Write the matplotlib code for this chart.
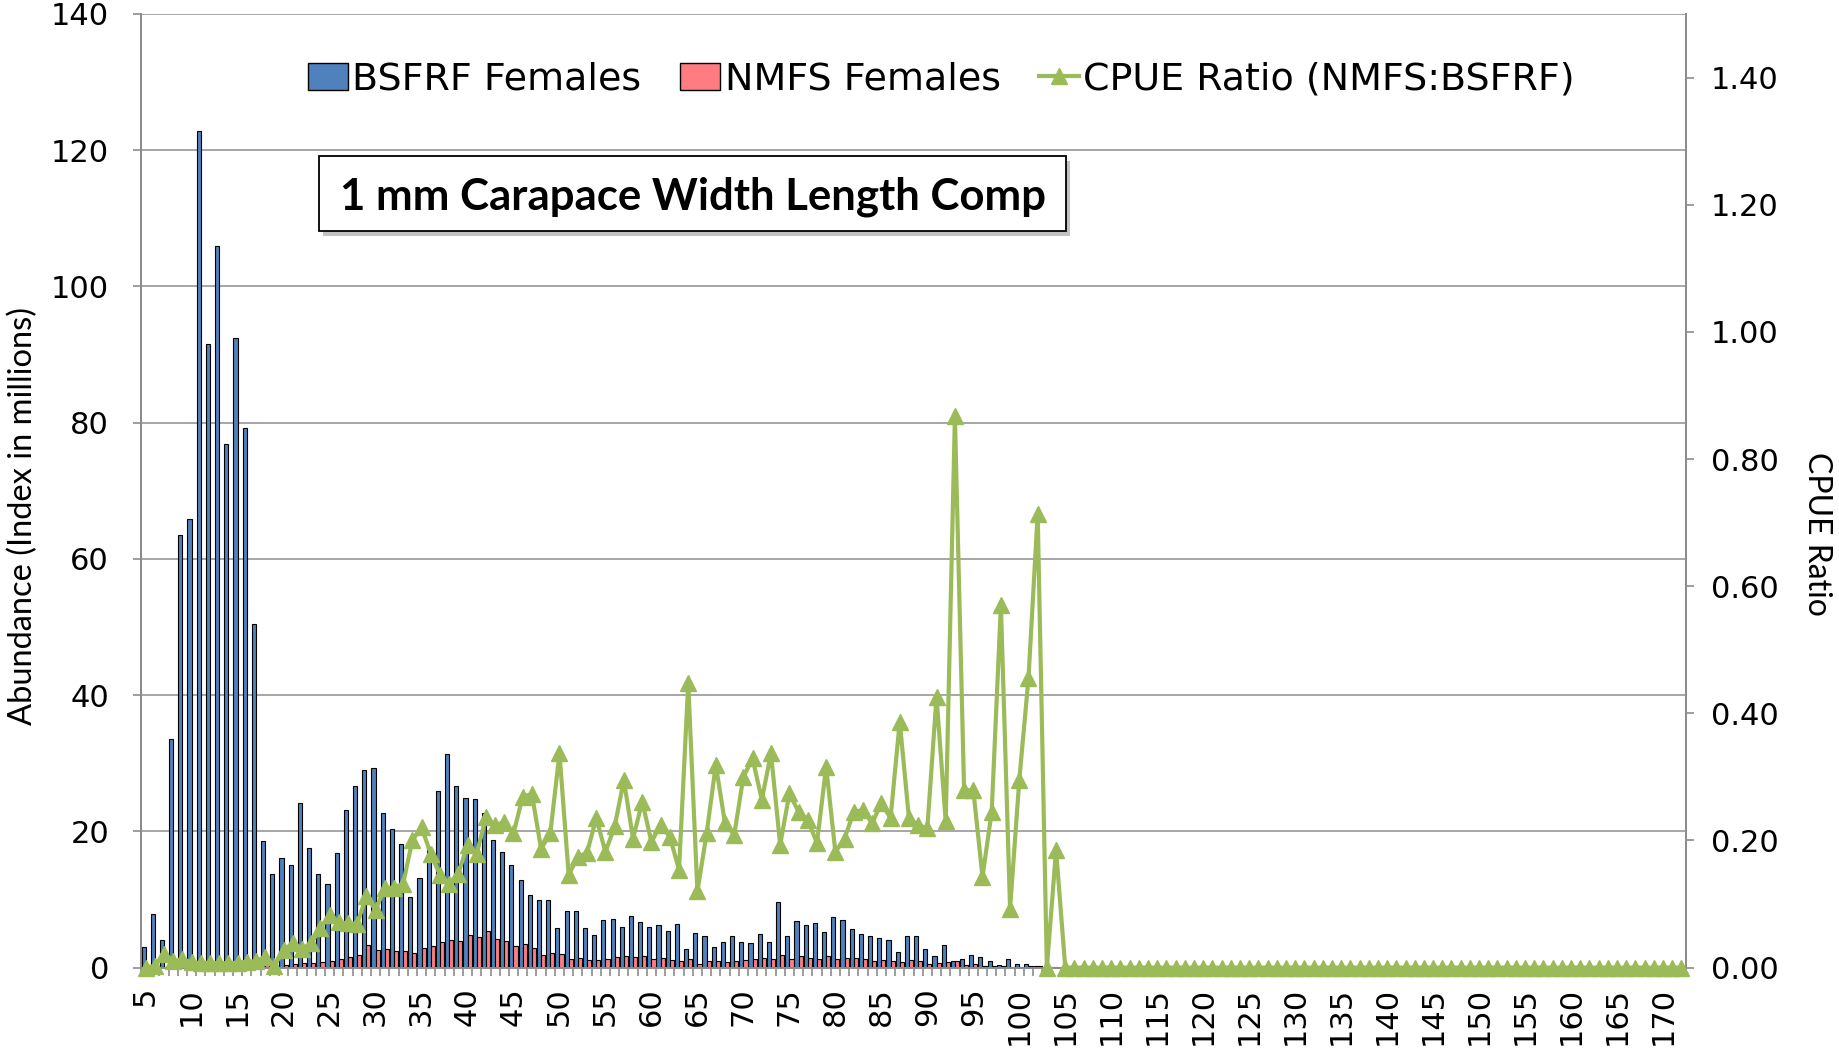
import matplotlib
matplotlib.use('Agg')
import matplotlib.pyplot as plt
import numpy as np
from matplotlib.patches import Rectangle, Patch
from matplotlib.lines import Line2D

plt.rcParams['font.family'] = ['DejaVu Sans']

# Carapace width categories (mm)
sizes = list(range(5, 173))

# BSFRF Females abundance (index in millions), 5..172 mm
bsfrf = [3.0, 7.8, 4.0, 33.6, 63.5, 65.8, 122.8, 91.5, 105.9, 76.8,
         92.5, 79.2, 50.4, 18.6, 13.7, 16.1, 15.1, 24.2, 17.6, 13.8,
         12.3, 16.9, 23.2, 26.6, 29.0, 29.3, 22.7, 20.4, 18.2, 10.4,
         13.2, 17.7, 26.0, 31.3, 26.7, 24.9, 24.7, 22.7, 18.8, 17.0,
         15.0, 12.9, 10.7, 9.9, 10.0, 5.8, 8.3, 8.3, 5.8, 4.8,
         7.0, 7.1, 5.9, 7.6, 6.7, 6.0, 6.3, 5.4, 6.4, 2.7,
         5.1, 4.6, 3.1, 3.8, 4.6, 3.7, 3.6, 4.9, 3.7, 9.6,
         4.6, 6.9, 6.3, 6.6, 5.3, 7.4, 7.0, 5.6, 4.9, 4.6,
         4.3, 4.1, 2.3, 4.6, 4.7, 2.7, 1.7, 3.3, 1.0, 1.2,
         1.9, 1.6, 0.9, 0.4, 1.3, 0.5, 0.5, 0.25, 0.15, 0.15,
         0, 0, 0, 0, 0, 0, 0, 0, 0, 0,
         0, 0, 0, 0, 0, 0, 0, 0, 0, 0,
         0, 0, 0, 0, 0, 0, 0, 0, 0, 0,
         0, 0, 0, 0, 0, 0, 0, 0, 0, 0,
         0, 0, 0, 0, 0, 0, 0, 0, 0, 0,
         0, 0, 0, 0, 0, 0, 0, 0, 0, 0,
         0, 0, 0, 0, 0, 0, 0, 0]

# NMFS Females abundance (index in millions), 5..172 mm
nmfs = [0.0, 0.02, 0.09, 0.34, 0.83, 0.6, 0.86, 0.73, 0.74, 0.54,
        0.74, 0.71, 0.5, 0.32, 0.04, 0.45, 0.6, 0.75, 0.65, 0.85,
        1.0, 1.2, 1.6, 1.8, 3.3, 2.6, 2.8, 2.5, 2.4, 2.1,
        2.95, 3.15, 3.8, 4.1, 3.95, 4.85, 4.45, 5.4, 4.2, 3.9,
        3.15, 3.45, 2.95, 1.85, 2.1, 1.95, 1.2, 1.45, 1.05, 1.13,
        1.27, 1.58, 1.74, 1.54, 1.75, 1.2, 1.4, 1.05, 1.0, 1.25,
        0.6, 1.0, 1.0, 0.85, 0.98, 1.1, 1.2, 1.35, 1.22, 1.88,
        1.28, 1.65, 1.48, 1.3, 1.64, 1.33, 1.45, 1.38, 1.2, 1.02,
        1.1, 0.93, 0.85, 1.05, 1.03, 0.6, 0.72, 0.82, 0.92, 0.45,
        0.56, 0.26, 0.25, 0.2, 0.13, 0.15, 0.22, 0.18, 0.0, 0.03,
        0, 0, 0, 0, 0, 0, 0, 0, 0, 0,
        0, 0, 0, 0, 0, 0, 0, 0, 0, 0,
        0, 0, 0, 0, 0, 0, 0, 0, 0, 0,
        0, 0, 0, 0, 0, 0, 0, 0, 0, 0,
        0, 0, 0, 0, 0, 0, 0, 0, 0, 0,
        0, 0, 0, 0, 0, 0, 0, 0, 0, 0,
        0, 0, 0, 0, 0, 0, 0, 0]

# CPUE ratio (NMFS:BSFRF), 5..172 mm
cpue = [0.0, 0.003, 0.022, 0.01, 0.013, 0.009, 0.007, 0.008, 0.007, 0.007,
        0.008, 0.009, 0.01, 0.017, 0.003, 0.027, 0.039, 0.030, 0.038, 0.062,
        0.083, 0.071, 0.070, 0.069, 0.112, 0.091, 0.125, 0.126, 0.132, 0.200,
        0.221, 0.179, 0.146, 0.132, 0.148, 0.193, 0.179, 0.237, 0.224, 0.229,
        0.211, 0.269, 0.273, 0.187, 0.211, 0.337, 0.146, 0.174, 0.181, 0.235,
        0.182, 0.222, 0.295, 0.203, 0.261, 0.198, 0.224, 0.206, 0.154, 0.447,
        0.120, 0.211, 0.319, 0.227, 0.209, 0.300, 0.329, 0.264, 0.337, 0.193,
        0.274, 0.245, 0.232, 0.196, 0.316, 0.182, 0.203, 0.245, 0.248, 0.227,
        0.259, 0.235, 0.387, 0.235, 0.224, 0.219, 0.426, 0.230, 0.867, 0.279,
        0.279, 0.143, 0.245, 0.570, 0.093, 0.295, 0.455, 0.714, 0.0, 0.185,
        0, 0, 0, 0, 0, 0, 0, 0, 0, 0,
        0, 0, 0, 0, 0, 0, 0, 0, 0, 0,
        0, 0, 0, 0, 0, 0, 0, 0, 0, 0,
        0, 0, 0, 0, 0, 0, 0, 0, 0, 0,
        0, 0, 0, 0, 0, 0, 0, 0, 0, 0,
        0, 0, 0, 0, 0, 0, 0, 0, 0, 0,
        0, 0, 0, 0, 0, 0, 0, 0]

left_ticks = [0, 20, 40, 60, 80, 100, 120, 140]
right_ticks = [0.0, 0.2, 0.4, 0.6, 0.8, 1.0, 1.2, 1.4]
x_labels = list(range(5, 171, 5))

BLUE = '#4F81BD'
RED = '#FF7C80'
GREEN = '#9BBB59'
GRID = '#A6A6A6'
AXC = '#8C8C8C'

fig = plt.figure(figsize=(18.39, 10.52), dpi=100)
ax = fig.add_axes([0.0767, 0.0802, 0.8401, 0.9065])

x = np.array(sizes, dtype=float)
w = 0.45
ax.bar(x - 0.225, bsfrf, width=w, color=BLUE, edgecolor='black', linewidth=0.8, zorder=2)
ax.bar(x + 0.225, nmfs, width=w, color=RED, edgecolor='black', linewidth=0.8, zorder=2)

ax.set_xlim(4.5, 172.5)
ax.set_ylim(0, 140)
ax.set_yticks(left_ticks)
ax.set_yticklabels([str(t) for t in left_ticks], fontsize=22)
ax.yaxis.grid(True, color=GRID, linewidth=1.4, zorder=0)
ax.set_axisbelow(True)

ax.set_xticks(x_labels)
ax.set_xticklabels([str(t) for t in x_labels], rotation=90, fontsize=22)
ax.set_xticks(np.arange(4.5, 173.0, 1.0), minor=True)
ax.tick_params(axis='x', which='major', length=0, pad=14)
ax.tick_params(axis='x', which='minor', length=6, color=AXC, width=1.2)
ax.tick_params(axis='y', which='major', length=6, color=AXC, width=1.2, pad=17)

ax.spines['top'].set_visible(False)
for s in ['left', 'bottom', 'right']:
    ax.spines[s].set_color(AXC)
    ax.spines[s].set_linewidth(1.4)

ax.set_ylabel('Abundance (Index in millions)', fontsize=23.5,
              family=['Lato', 'DejaVu Sans'])
ax.yaxis.set_label_coords(-0.0668, 0.4736)

ax2 = ax.twinx()
ax2.plot(x, cpue, color=GREEN, linewidth=3.0, marker='^', markersize=11,
         markerfacecolor=GREEN, markeredgecolor=GREEN, clip_on=False, zorder=3)
ax2.set_ylim(0, 1.5)
ax2.set_yticks(right_ticks)
ax2.set_yticklabels(['%.2f' % t for t in right_ticks], fontsize=22)
ax2.tick_params(axis='y', which='major', length=6, color=AXC, width=1.2, pad=12)
ax2.spines['top'].set_visible(False)
for s in ['left', 'bottom', 'right']:
    ax2.spines[s].set_color(AXC)
    ax2.spines[s].set_linewidth(1.4)
ax2.set_ylabel('CPUE Ratio', fontsize=23, rotation=270,
               family=['Lato', 'DejaVu Sans'])
ax2.yaxis.set_label_coords(1.0945, 0.455)

handles = [Patch(facecolor=BLUE, edgecolor='black', linewidth=1.0),
           Patch(facecolor=RED, edgecolor='black', linewidth=1.0),
           Line2D([0], [0], color=GREEN, linewidth=3.0, marker='^', markersize=11)]
labels = ['BSFRF Females', 'NMFS Females', 'CPUE Ratio (NMFS:BSFRF)']
leg = ax2.legend(handles, labels, loc='center', bbox_to_anchor=(0.518, 0.931),
                 ncol=3, frameon=False, fontsize=27.4, handlelength=1.05,
                 handleheight=0.75, handletextpad=0.13, columnspacing=1.0,
                 borderaxespad=0)

# Title box with shadow
bx0, by0, bw, bh = 0.115, 0.7724, 0.484, 0.0786
shadow = Rectangle((bx0 + 0.0025, by0 - 0.005), bw, bh, transform=ax2.transAxes,
                   facecolor='#9A9A9A', edgecolor='none', alpha=0.6, zorder=5)
ax2.add_patch(shadow)
box = Rectangle((bx0, by0), bw, bh, transform=ax2.transAxes,
                facecolor='white', edgecolor='black', linewidth=1.3, zorder=6)
ax2.add_patch(box)
ax2.text(bx0 + bw / 2, by0 + bh / 2 - 0.003, '1 mm Carapace Width Length Comp',
         transform=ax2.transAxes, ha='center', va='center', fontsize=31.5,
         fontweight='bold', family=['Lato', 'DejaVu Sans'], zorder=7)

fig.savefig('out.png', dpi=100)
